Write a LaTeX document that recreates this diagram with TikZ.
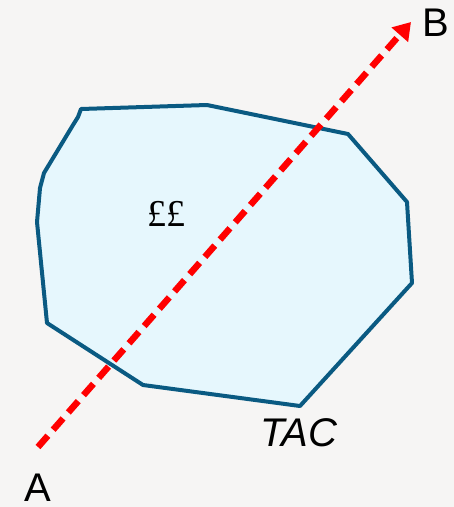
\documentclass[tikz,border=0pt]{standalone}
\usepackage{fontspec}
\setmainfont{Liberation Sans}
\newfontfamily\seriffont{Liberation Serif}
\usetikzlibrary{arrows.meta}
\definecolor{bgc}{RGB}{246,245,244}
\definecolor{edgec}{RGB}{10,90,130}
\definecolor{fillc}{RGB}{230,247,253}
\definecolor{redc}{RGB}{255,0,0}
\tikzset{
  lbl/.style={inner sep=0pt, font=\fontsize{40}{42}\selectfont, text=black},
  region/.style={draw=edgec, fill=fillc, line width=4pt, line join=round},
  path arrow/.style={draw=redc, line width=6.5pt, dash pattern=on 15pt off 8pt,
     -{Triangle[length=17pt,width=21pt]}}
}
\begin{document}
\begin{tikzpicture}[x=1pt,y=-1pt]
\fill[bgc] (0,0) rectangle (454,507);
\useasboundingbox (0,0) rectangle (454,507);
\path[region] (81,109) -- (207,105) -- (348,134) -- (407,202) -- (412,283)
  -- (300,406) -- (143,385) -- (47,323) -- (37,222) -- (40,188) -- (44,173)
  -- (73,125) -- (78,117) -- cycle;
\coordinate (start) at (38,447);
\coordinate (end) at (411,22);
\draw[path arrow] (start) -- (end);
\node[lbl] (B) at (435.5,23) {B};
\node[lbl] (A) at (38,488) {A};
\node[lbl, font=\fontsize{40}{42}\selectfont\itshape] (TAC) at (299,433) {TAC};
\node[lbl, font=\seriffont\fontsize{38}{40}\selectfont] (money) at (166,213.5) {££};
\end{tikzpicture}
\end{document}
